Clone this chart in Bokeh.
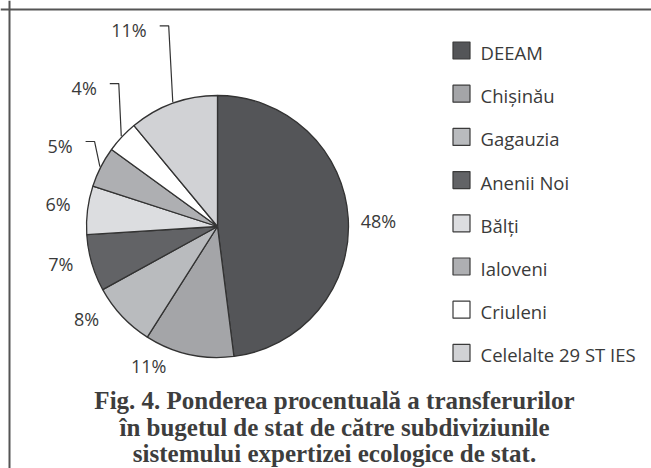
import math
from bokeh.plotting import figure
from bokeh.models import Range1d, Span, ColumnDataSource
from bokeh.core.properties import value
from bokeh.embed import file_html
from bokeh.resources import INLINE

# ---- data ----
categories = ["DEEAM", "Chișinău", "Gagauzia", "Anenii Noi", "Bălți",
              "Ialoveni", "Criuleni", "Celelalte 29 ST IES"]
shares = [48, 11, 8, 7, 6, 5, 4, 11]
colors = ["#545558", "#a4a5a8", "#b9bbbe", "#626366", "#dcdde0",
          "#aeafb2", "#ffffff", "#d1d2d5"]
title_lines = ["Fig. 4. Ponderea procentuală a transferurilor",
               "în bugetul de stat de către subdiviziunile",
               "sistemului expertizei ecologice de stat."]

# ---- layout constants ----
W, H = 651, 468
CX, CY, R = 217, 242, 131
label_dist = [161, 156, 160, 161, 161, 166, 184, 209]
label_tweak = [-1.8, -13.6, -8.1, -2.9, -1.0, -2.2, -5.8, 0.0]
leader = [False, False, False, False, False, True, True, True]
FONT = "Open Sans"
TXT = "#3a3a3a"

p = figure(width=W, height=H, x_range=Range1d(0, W), y_range=Range1d(0, H),
           output_backend="svg", toolbar_location=None, min_border=0)
p.axis.visible = False
p.grid.visible = False
p.outline_line_color = None
p.background_fill_color = "white"
p.border_fill_color = "white"

# ---- pie ----
total = sum(shares)
starts, ends, mids = [], [], []
acc = 0.0
for s in shares:
    a0 = math.pi / 2 - 2 * math.pi * acc / total
    acc += s
    a1 = math.pi / 2 - 2 * math.pi * acc / total
    starts.append(a0)
    ends.append(a1)
    mids.append((a0 + a1) / 2)

src = ColumnDataSource(dict(start=starts, end=ends, color=colors))
p.wedge(x=CX, y=CY, radius=R, start_angle="start", end_angle="end",
        direction="clock", fill_color="color", line_color="#333333",
        line_width=1.3, source=src)

# ---- labels ----
lx, ly, lt, rx, ry, rt = [], [], [], [], [], []
for i, s in enumerate(shares):
    ang = mids[i] + math.radians(label_tweak[i])
    x = CX + label_dist[i] * math.cos(ang)
    y = CY + label_dist[i] * math.sin(ang)
    if leader[i]:
        rx.append(x); ry.append(y); rt.append(f"{s}%")
        ex = CX + (R + 1) * math.cos(mids[i])
        ey = CY + (R + 1) * math.sin(mids[i])
        p.line([ex, x + 22, x + 13], [ey, y + 4, y + 4],
               line_color="#333333", line_width=1.2)
    else:
        lx.append(x); ly.append(y); lt.append(f"{s}%")

p.text(x=lx, y=ly, text=lt, text_font=value(FONT), text_font_size="18px",
       text_color=TXT, text_align="center", text_baseline="middle")
p.text(x=rx, y=ry, text=rt, text_font=value(FONT), text_font_size="18px",
       text_color=TXT, text_align="right", text_baseline="middle")

# ---- legend ----
ys = [418 - 43.2 * i for i in range(len(categories))]
p.scatter(x=[461] * len(categories), y=ys, marker="square", size=17,
          fill_color=colors, line_color="#3a3a3a", line_width=1.2)
p.text(x=[480] * len(categories), y=[y - 2 for y in ys], text=categories,
       text_font=value(FONT), text_font_size="18.5px", text_color=TXT,
       text_align="left", text_baseline="middle")

# ---- caption ----
p.text(x=[334] * 3, y=[68, 41, 15], text=title_lines,
       text_font=value("Liberation Serif"), text_font_style="bold",
       text_font_size="25px", text_color="#3d3d3d",
       text_align="center", text_baseline="alphabetic")

# ---- frame ----
p.add_layout(Span(location=459, dimension="width", line_color="#555555", line_width=2))
p.add_layout(Span(location=9, dimension="height", line_color="#555555", line_width=2))

open("out.html", "w").write(file_html(p, INLINE))
